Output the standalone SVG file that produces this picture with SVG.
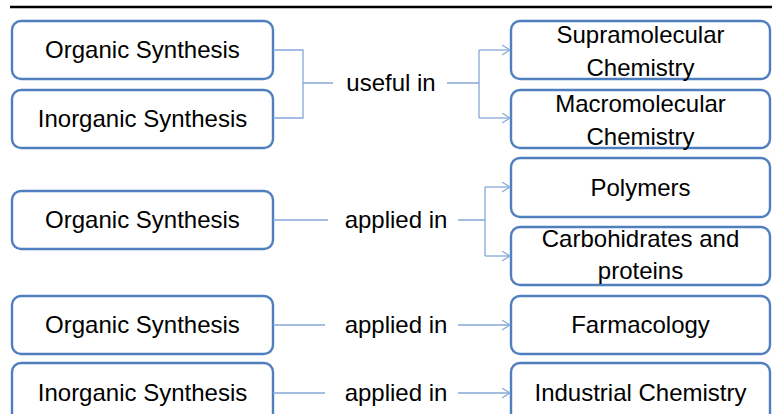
<svg xmlns="http://www.w3.org/2000/svg" width="772" height="414" viewBox="0 0 772 414">
<defs>
<style>
.box{fill:#fff;stroke:#4f7fbf;stroke-width:2.4}
.t{font-family:"Liberation Sans",Arial,sans-serif;font-size:24px;fill:#000;text-anchor:middle}
.c{fill:none;stroke:#86a8d8;stroke-width:1.3}
</style>
<marker id="ar" markerUnits="userSpaceOnUse" markerWidth="10" markerHeight="12" refX="8" refY="5" orient="auto" viewBox="0 0 10 12">
<path d="M0,0 L8,5 L0,10" fill="none" stroke="#86a8d8" stroke-width="1.2"/>
</marker>
</defs>
<rect width="772" height="414" fill="#fff"/>
<line x1="10" y1="7" x2="772" y2="7" stroke="#000" stroke-width="2.5"/>

<g id="n1"><rect class="box" x="12" y="21" width="261" height="58" rx="9"/><text class="t" x="142.5" y="58">Organic Synthesis</text></g>
<g id="n2"><rect class="box" x="12" y="90" width="261" height="58" rx="9"/><text class="t" x="142.5" y="127">Inorganic Synthesis</text></g>
<g id="n3"><rect class="box" x="511" y="21" width="259" height="58" rx="9"/><text class="t" x="640.5" y="43">Supramolecular</text><text class="t" x="640.5" y="76">Chemistry</text></g>
<g id="n4"><rect class="box" x="511" y="90" width="259" height="58" rx="9"/><text class="t" x="640.5" y="112">Macromolecular</text><text class="t" x="640.5" y="145">Chemistry</text></g>
<g id="n5"><rect class="box" x="12" y="191" width="261" height="58" rx="9"/><text class="t" x="142.5" y="228">Organic Synthesis</text></g>
<g id="n6"><rect class="box" x="511" y="158" width="259" height="59" rx="9"/><text class="t" x="640.5" y="196">Polymers</text></g>
<g id="n7"><rect class="box" x="511" y="227" width="259" height="58" rx="9"/><text class="t" x="640.5" y="247">Carbohidrates and</text><text class="t" x="640.5" y="279">proteins</text></g>
<g id="n8"><rect class="box" x="12" y="296" width="261" height="58" rx="9"/><text class="t" x="142.5" y="333">Organic Synthesis</text></g>
<g id="n9"><rect class="box" x="511" y="296" width="259" height="58" rx="9"/><text class="t" x="640.5" y="333">Farmacology</text></g>
<g id="n10"><rect class="box" x="12" y="363" width="261" height="62" rx="9"/><text class="t" x="142.5" y="401">Inorganic Synthesis</text></g>
<g id="n11"><rect class="box" x="511" y="363" width="259" height="62" rx="9"/><text class="t" x="640.5" y="401">Industrial Chemistry</text></g>

<g id="connectors">
<path class="c" d="M273,50 H303 V118 H273 M303,83 H333"/>
<text class="t" x="391" y="91">useful in</text>
<path class="c" d="M447,83 H479 M479,50 V118"/>
<path class="c" d="M479,50 H510" marker-end="url(#ar)"/>
<path class="c" d="M479,118 H510" marker-end="url(#ar)"/>

<path class="c" d="M273,220 H328 M458,220 H485 M485,187 V256"/>
<text class="t" x="396" y="228">applied in</text>
<path class="c" d="M485,187 H510" marker-end="url(#ar)"/>
<path class="c" d="M485,256 H510" marker-end="url(#ar)"/>

<path class="c" d="M273,325 H325"/>
<text class="t" x="396" y="333">applied in</text>
<path class="c" d="M458,325 H510" marker-end="url(#ar)"/>

<path class="c" d="M273,393 H325"/>
<text class="t" x="396" y="401">applied in</text>
<path class="c" d="M458,393 H510" marker-end="url(#ar)"/>
</g>
</svg>
